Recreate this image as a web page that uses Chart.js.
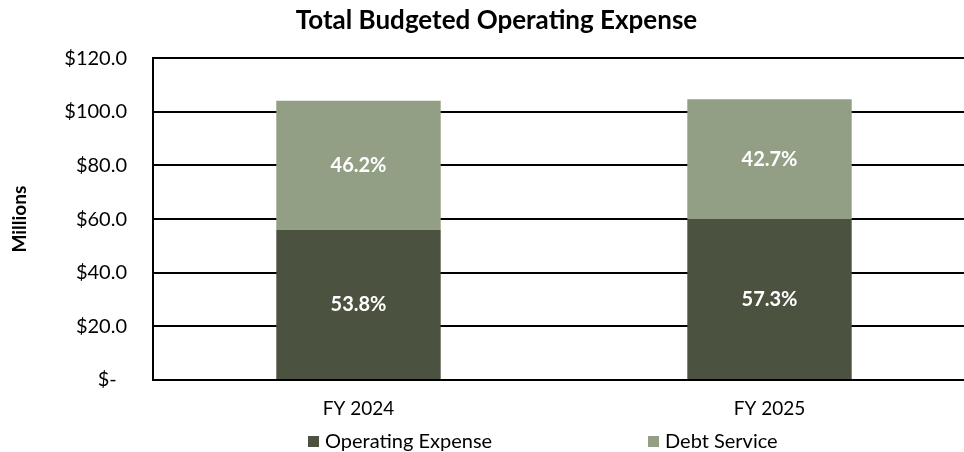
<!DOCTYPE html>
<html>
<head>
<meta charset="utf-8">
<title>Total Budgeted Operating Expense</title>
<script src="https://cdn.jsdelivr.net/npm/chart.js@4.4.1/dist/chart.umd.min.js"></script>
<style>
  html, body { margin: 0; padding: 0; background: #fff; }
  .frame { width: 964px; height: 452px; overflow: hidden; }
  .frame canvas { display: block; }
</style>
</head>
<body>
<div class="frame"><canvas id="budgetChart" width="995" height="452"></canvas></div>
<script>
"use strict";

// $ millions per fiscal year
const categories = ["FY 2024", "FY 2025"];
const operatingExpense = [56.0, 60.0];
const debtService = [48.1, 44.7];
const yTicks = [0, 20, 40, 60, 80, 100, 120];

const DARK_GREEN = "#4b523f";
const SAGE = "#939f84";
const FONT = "Lato, 'Open Sans', sans-serif";

// legend sits under the axis, item x positions and row centre
const LEGEND_X = [308, 648];
const LEGEND_Y = 441;

Chart.defaults.font.family = FONT;
Chart.defaults.color = "#000";

function moneyTick(value) {
  return value === 0 ? "$-  " : "$" + value.toFixed(1);
}

// share of the stacked total, written inside each segment
const segmentLabels = {
  id: "segmentLabels",
  afterDatasetsDraw(chart) {
    const { ctx, data } = chart;
    ctx.save();
    ctx.font = `bold 20px ${FONT}`;
    ctx.fillStyle = "#fff";
    ctx.textAlign = "center";
    ctx.textBaseline = "middle";
    data.datasets.forEach((ds, di) => {
      chart.getDatasetMeta(di).data.forEach((bar, i) => {
        const total = data.datasets.reduce((sum, d) => sum + d.data[i], 0);
        const pct = ((ds.data[i] / total) * 100).toFixed(1) + "%";
        const { x, y, base } = bar.getProps(["x", "y", "base"], true);
        ctx.fillText(pct, x, (y + base) / 2);
      });
    });
    ctx.restore();
  },
};

const bottomLegend = {
  id: "bottomLegend",
  afterDraw(chart) {
    const { ctx } = chart;
    ctx.save();
    ctx.font = `20px ${FONT}`;
    ctx.textBaseline = "middle";
    chart.data.datasets.forEach((ds, i) => {
      const x = LEGEND_X[i];
      ctx.fillStyle = ds.backgroundColor;
      ctx.fillRect(x, LEGEND_Y - 5, 11, 11);
      ctx.fillStyle = "#000";
      ctx.fillText(ds.label, x + 17, LEGEND_Y + 1);
    });
    ctx.restore();
  },
};

new Chart(document.getElementById("budgetChart"), {
  type: "bar",
  data: {
    labels: categories,
    datasets: [
      { label: "Operating Expense", data: operatingExpense, backgroundColor: DARK_GREEN },
      { label: "Debt Service", data: debtService, backgroundColor: SAGE },
    ],
  },
  options: {
    responsive: false,
    animation: false,
    layout: { padding: { left: 18, right: 20, top: 0, bottom: 32 } },
    datasets: { bar: { categoryPercentage: 1, barPercentage: 0.4 } },
    plugins: {
      legend: { display: false },
      tooltip: { enabled: false },
      title: {
        display: true,
        text: "Total Budgeted Operating Expense",
        color: "#000",
        font: { size: 26, weight: "bold" },
        padding: { top: 5, bottom: 22 },
      },
    },
    scales: {
      x: {
        stacked: true,
        grid: { display: false, drawTicks: false },
        border: { display: true, color: "#000", width: 2 },
        ticks: { color: "#000", font: { size: 19 }, padding: 17 },
        afterFit(scale) {
          scale.height = 40;
        },
      },
      y: {
        stacked: true,
        min: yTicks[0],
        max: yTicks[yTicks.length - 1],
        afterBuildTicks(scale) {
          scale.ticks = yTicks.map((v) => ({ value: v }));
        },
        afterFit(scale) {
          scale.width = 135;
        },
        ticks: { color: "#000", font: { size: 20 }, padding: 26, callback: moneyTick },
        grid: { color: "#000", lineWidth: 2, drawTicks: false },
        border: { display: true, color: "#000", width: 2 },
        title: {
          display: true,
          text: "Millions",
          color: "#000",
          font: { size: 19, weight: "bold" },
          padding: { top: -10, bottom: 0 },
        },
      },
    },
  },
  plugins: [segmentLabels, bottomLegend],
});
</script>
</body>
</html>
